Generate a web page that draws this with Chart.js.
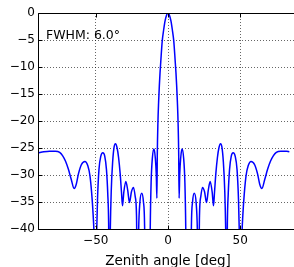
<!DOCTYPE html>
<html>
<head>
<meta charset="utf-8">
<script src="https://cdn.jsdelivr.net/npm/chart.js@4/dist/chart.umd.min.js"></script>
<style>
  html, body { margin: 0; padding: 0; background: #fff; overflow: hidden; }
  #wrap { width: 298px; height: 267px; }
</style>
</head>
<body>
<div id="wrap"><canvas id="beamChart"></canvas></div>
<script>
// beam pattern (left half, mirrored for the right half)
const halfAngles = [
  -90, -86, -82, -78, -75, -73, -71, -69, -67, -65, -63.5, -62, -60, -57.5, -55.5, -54, -52.8, -51.8, -51.1, -50.3,
  -49.5, -48.8, -47.8, -46.5, -45.1, -43.8, -42.6, -41.7, -41.1, -40.6,
  -40.0, -39.3, -38.3, -37.3, -36.4, -35.3, -34.2, -33.1, -32.2, -31.5,
  -30.6, -29.2, -27.9, -26.7, -25.3, -23.9, -22.7, -21.8, -21.1,
  -20.3, -19.5, -18.2, -17.0, -16.2, -15.7, -12.8,
  -12.3, -11.7, -10.8, -9.7, -8.8, -8.1, -7.7,
  -7.4, -7.0, -6.5, -6.0, -5.5, -5.0, -4.0, -3.0, -2.0, -1.0
];
const halfGain = [
  -25.9, -25.7, -25.6, -25.6, -25.8, -26.4, -27.4, -28.9, -30.8, -32.5, -31.7, -29.8, -28.1, -27.5, -28.3, -30.2, -33.5, -37.5, -42, -55,
  -42, -34.5, -29, -26.5, -25.9, -26.5, -29, -33.5, -39, -55,
  -41, -33, -27.5, -24.8, -24.2, -24.9, -26.8, -29.8, -33.2, -35.7,
  -33.2, -31.2, -32.8, -35.1, -33.1, -32.3, -34, -37.5, -55,
  -40, -35.2, -33.4, -35, -39.5, -55, -55,
  -40, -31.5, -26.8, -25.2, -26.8, -30, -34.3,
  -26, -20.5, -16.5, -13.5, -11, -9, -5.2, -3.1, -1.4, -0.4
];
const peakAngle = 0;
const peakGain = 0;
const lastAngle = 84;   // the trace stops short of the right edge

const xTicks = [-50, 0, 50];
const yTicks = [0, -5, -10, -15, -20, -25, -30, -35, -40];
const fwhmLabel = "FWHM: 6.0\u00b0";
const xTitle = "Zenith angle [deg]";

// left half, peak, then the mirrored right half
const points = [];
halfAngles.forEach((a, i) => points.push({ x: a, y: halfGain[i] }));
points.push({ x: peakAngle, y: peakGain });
for (let i = halfAngles.length - 1; i >= 0; i--) {
  if (-halfAngles[i] <= lastAngle) points.push({ x: -halfAngles[i], y: halfGain[i] });
}
points.push({ x: lastAngle, y: -25.7 });

const FONT = "DejaVu Sans";
const minus = (v) => (v < 0 ? "\u2212" + Math.abs(v) : String(v));

// spines, inward tick marks and the FWHM note
const framePlugin = {
  id: "frame",
  afterDatasetsDraw(chart) {
    const { ctx, chartArea: a, scales } = chart;
    const L = Math.round(a.left) + 0.5;
    const T = Math.round(a.top) + 0.5;
    const B = Math.round(a.bottom) + 0.5;
    ctx.save();
    ctx.strokeStyle = "#000";
    ctx.lineWidth = 1;
    ctx.beginPath();
    ctx.moveTo(a.right + 2, T); ctx.lineTo(L, T); ctx.lineTo(L, B); ctx.lineTo(a.right + 2, B);
    xTicks.forEach((v) => {
      const px = Math.round(scales.x.getPixelForValue(v)) + 0.5;
      ctx.moveTo(px, B); ctx.lineTo(px, B - 4);
      ctx.moveTo(px, T); ctx.lineTo(px, T + 4);
    });
    yTicks.forEach((v) => {
      const py = Math.round(scales.y.getPixelForValue(v)) + 0.5;
      ctx.moveTo(L, py); ctx.lineTo(L + 4, py);
    });
    ctx.stroke();

    ctx.fillStyle = "#000";
    ctx.font = "12.5px '" + FONT + "'";
    ctx.textAlign = "left";
    ctx.textBaseline = "alphabetic";
    ctx.fillText(fwhmLabel, 46, 39);
    ctx.restore();
  },
};

new Chart(document.getElementById("beamChart"), {
  type: "line",
  data: {
    datasets: [
      {
        data: points,
        borderColor: "#0000ff",
        borderWidth: 1.5,
        pointRadius: 0,
        fill: false,
        cubicInterpolationMode: "monotone",
      },
    ],
  },
  options: {
    responsive: true,
    maintainAspectRatio: false,
    animation: false,
    devicePixelRatio: 1,
    layout: { padding: { left: 0, top: 13, right: 0, bottom: 0 } },
    plugins: { legend: { display: false }, tooltip: { enabled: false } },
    scales: {
      x: {
        type: "linear",
        min: -90,
        max: 90,
        afterBuildTicks: (scale) => { scale.ticks = xTicks.map((v) => ({ value: v })); },
        afterFit: (scale) => { scale.height = 38; },
        ticks: {
          color: "#000",
          font: { family: FONT, size: 12 },
          padding: 5,
          maxRotation: 0,
          callback: (v) => minus(v),
        },
        grid: { color: "rgba(0,0,0,0.6)", lineWidth: 1, drawTicks: false },
        border: { display: false, dash: [1, 2] },
        title: {
          display: true,
          text: xTitle,
          color: "#000",
          font: { family: FONT, size: 13.5, lineHeight: 1 },
          padding: { top: 0, bottom: -1.5 },
        },
      },
      y: {
        min: -40,
        max: 0,
        afterBuildTicks: (scale) => { scale.ticks = yTicks.map((v) => ({ value: v })); },
        afterFit: (scale) => { scale.width = 38; },
        ticks: {
          color: "#000",
          font: { family: FONT, size: 12 },
          padding: 3,
          callback: (v) => minus(v),
        },
        grid: { color: "rgba(0,0,0,0.6)", lineWidth: 1, drawTicks: false },
        border: { display: false, dash: [1, 2] },
      },
    },
  },
  plugins: [framePlugin],
});
</script>
</body>
</html>
